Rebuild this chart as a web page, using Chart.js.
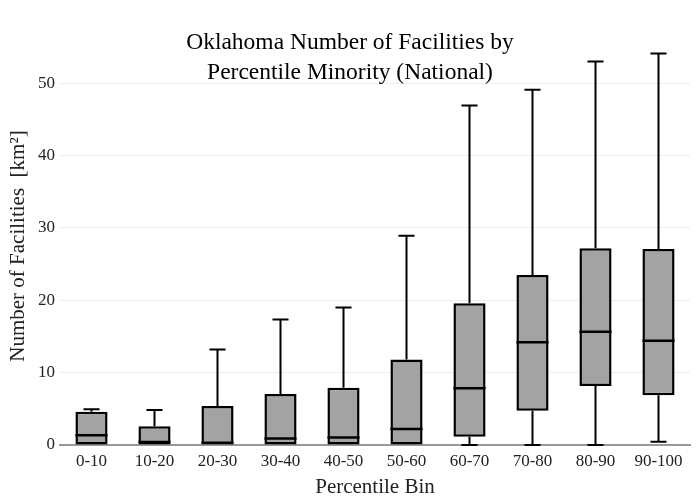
<!DOCTYPE html>
<html>
<head>
<meta charset="utf-8">
<script src="https://cdn.jsdelivr.net/npm/chart.js@4/dist/chart.umd.min.js"></script>
<style>
  html, body { margin: 0; padding: 0; background: #fff; }
  #wrap { width: 700px; height: 500px; }
</style>
</head>
<body>
<div id="wrap"><canvas id="boxChart" width="700" height="500"></canvas></div>
<script>
const categories = ['0-10', '10-20', '20-30', '30-40', '40-50', '50-60', '60-70', '70-80', '80-90', '90-100'];
const lowerWhisker = [0, 0, 0, 0, 0, 0, 0, 0, 0, 0.46];
const q1 = [0, 0, 0, 0, 0, 0, 1.15, 4.74, 8.15, 6.86];
const median = [1.35, 0.4, 0.3, 0.9, 1.05, 2.2, 7.85, 14.2, 15.65, 14.4];
const q3 = [4.6, 2.6, 5.4, 7.05, 7.9, 11.8, 19.6, 23.5, 27.2, 27.1];
const upperWhisker = [4.95, 4.85, 13.2, 17.35, 19.0, 28.9, 46.9, 49.1, 53.0, 54.1];
const yTicks = [0, 10, 20, 30, 40, 50];

const serif = '"Liberation Serif", "Times New Roman", serif';

// whiskers, caps and medians drawn through the chart's own scales
const boxExtras = {
    id: 'boxExtras',
    afterDatasetsDraw(chart) {
        const ctx = chart.ctx;
        const x = chart.scales.x;
        const y = chart.scales.y;
        const meta = chart.getDatasetMeta(0);
        ctx.save();
        ctx.strokeStyle = '#000';
        for (let i = 0; i < categories.length; i++) {
            const bar = meta.data[i];
            const cx = x.getPixelForValue(i);
            const half = bar.width / 2;
            const capHalf = half / 2;
            ctx.lineWidth = 2;
            // upper whisker
            if (upperWhisker[i] > q3[i]) {
                ctx.beginPath();
                ctx.moveTo(cx, y.getPixelForValue(q3[i]));
                ctx.lineTo(cx, y.getPixelForValue(upperWhisker[i]));
                ctx.moveTo(cx - capHalf, y.getPixelForValue(upperWhisker[i]));
                ctx.lineTo(cx + capHalf, y.getPixelForValue(upperWhisker[i]));
                ctx.stroke();
            }
            // lower whisker
            if (lowerWhisker[i] < q1[i]) {
                ctx.beginPath();
                ctx.moveTo(cx, y.getPixelForValue(q1[i]));
                ctx.lineTo(cx, y.getPixelForValue(lowerWhisker[i]));
                ctx.moveTo(cx - capHalf, y.getPixelForValue(lowerWhisker[i]));
                ctx.lineTo(cx + capHalf, y.getPixelForValue(lowerWhisker[i]));
                ctx.stroke();
            }
            // median
            ctx.lineWidth = 2.5;
            ctx.beginPath();
            ctx.moveTo(cx - half, y.getPixelForValue(median[i]));
            ctx.lineTo(cx + half, y.getPixelForValue(median[i]));
            ctx.stroke();
        }
        ctx.restore();
    },
    afterDraw(chart) {
        const ctx = chart.ctx;
        ctx.save();
        ctx.fillStyle = '#000';
        ctx.font = '23.5px ' + serif;
        ctx.textAlign = 'center';
        ctx.textBaseline = 'middle';
        ctx.fillText('Oklahoma Number of Facilities by', 350, 43);
        ctx.fillText('Percentile Minority (National)', 350, 73);
        ctx.restore();
    }
};

const ctx = document.getElementById('boxChart').getContext('2d');
const chart = new Chart(ctx, {
    type: 'bar',
    data: {
        labels: categories,
        datasets: [{
            data: categories.map((c, i) => [q1[i], q3[i]]),
            backgroundColor: '#a3a3a3',
            borderColor: '#000',
            borderWidth: 2.5,
            borderSkipped: false,
            barPercentage: 0.51,
            categoryPercentage: 1
        }]
    },
    options: {
        responsive: false,
        animation: false,
        layout: { padding: { top: 47, right: 10, left: 0, bottom: 0 } },
        plugins: {
            legend: { display: false },
            tooltip: { enabled: false }
        },
        scales: {
            x: {
                grid: { display: false, drawTicks: false },
                border: { display: true, color: '#999', width: 2 },
                ticks: { color: '#222', padding: 6, font: { family: serif, size: 17 } },
                title: {
                    display: true,
                    text: 'Percentile Bin',
                    color: '#222',
                    font: { family: serif, size: 21 },
                    padding: { top: 4, bottom: 0 }
                },
                afterFit(scale) { scale.height = 55; }
            },
            y: {
                min: 0,
                max: 55,
                grid: {
                    drawTicks: false,
                    color: c => c.tick && c.tick.value === 0 ? 'rgba(0,0,0,0)' : '#eeeeee',
                    lineWidth: 1
                },
                border: { display: false },
                ticks: {
                    stepSize: 10,
                    includeBounds: false,
                    padding: 5,
                    color: '#222',
                    font: { family: serif, size: 17 },
                    callback: v => yTicks.includes(v) ? v : ''
                },
                title: {
                    display: true,
                    text: 'Number of Facilities  [km²]',
                    color: '#222',
                    font: { family: serif, size: 21 },
                    padding: { top: 6, bottom: 2 }
                },
                afterFit(scale) { scale.width = 60; }
            }
        }
    },
    plugins: [boxExtras]
});
</script>
</body>
</html>
